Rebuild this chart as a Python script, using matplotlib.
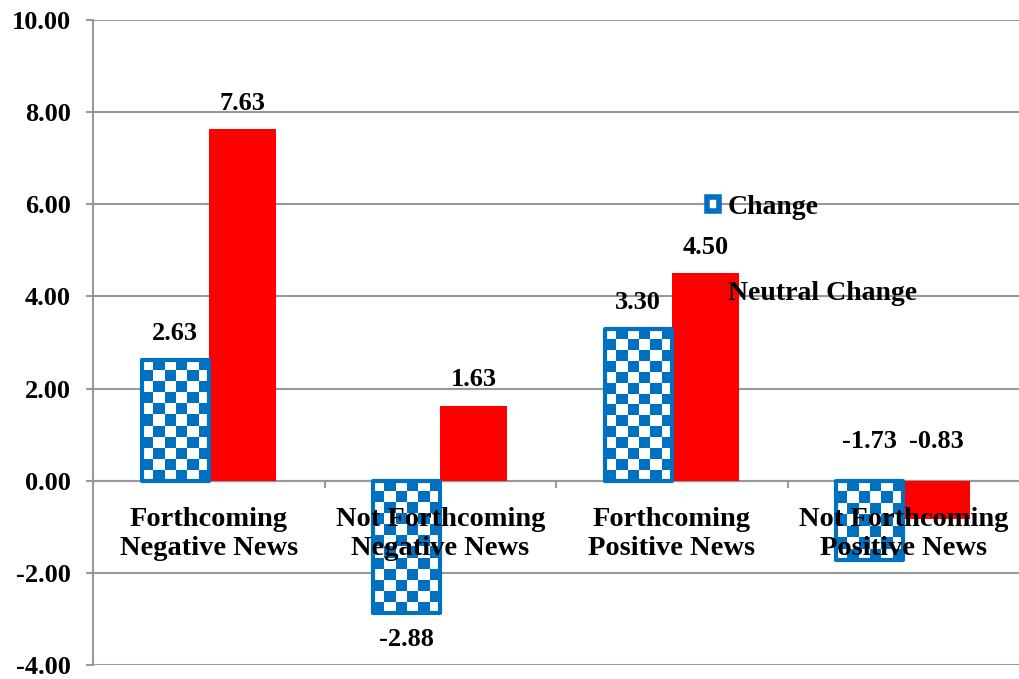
import numpy as np
import matplotlib
matplotlib.use('Agg')
import matplotlib.pyplot as plt
from matplotlib.patches import Rectangle
from matplotlib.colors import ListedColormap

categories = ['Forthcoming\nNegative News', 'Not Forthcoming\nNegative News',
              'Forthcoming\nPositive News', 'Not Forthcoming\nPositive News']
change = [2.63, -2.88, 3.30, -1.73]
neutral_change = [7.63, 1.63, 4.50, -0.83]
y_ticks = [-4, -2, 0, 2, 4, 6, 8, 10]

BLUE = '#0070C0'
RED = '#FF0000'
GRID = '#999999'
PT = 0.72  # points per pixel at 100 dpi
plt.rcParams['font.family'] = ['Liberation Serif', 'DejaVu Serif']
plt.rcParams['font.weight'] = 'bold'

fig = plt.figure(figsize=(10.19, 6.79), dpi=100)
ax = fig.add_axes([93 / 1019, 14 / 679, 926 / 1019, 645 / 679])
ax.set_xlim(-0.5, 3.5)
ax.set_ylim(-4, 10)

width = 0.29
x = np.arange(len(categories))

# pixel size of one data unit, used for the checker cells
px_x = 926 / 4
px_y = 645 / 14
cell = 11

checker_cmap = ListedColormap(['white', BLUE])
for xi, v in zip(x, change):
    x0 = xi - width
    bar = Rectangle((x0, 0), width, v, facecolor='none', edgecolor=BLUE,
                    linewidth=3, joinstyle='round', zorder=4)
    ax.add_patch(bar)
    ncols = max(1, int(round(width * px_x / cell)))
    nrows = max(1, int(round(abs(v) * px_y / cell)))
    grid = (np.indices((nrows, ncols)).sum(axis=0) % 2).astype(float)
    img = ax.imshow(grid, cmap=checker_cmap, extent=(x0, x0 + width, min(0, v), max(0, v)),
                    interpolation='nearest', aspect='auto', zorder=3, vmin=0, vmax=1)
    img.set_clip_path(bar)

ax.bar(x + width / 2, neutral_change, width, color=RED, zorder=3)

# value labels; the last group keeps both labels above the zero line
for i, (xi, v) in enumerate(zip(x, change)):
    if i == 3:
        y, off = 0, 39
    else:
        y, off = v, (26 if v > 0 else -26)
    ax.annotate(f'{v:.2f}', (xi - width / 2, y), xytext=(0, off * PT), textcoords='offset points',
                ha='center', va='center', fontsize=19, fontweight='bold', zorder=6)
for i, (xi, v) in enumerate(zip(x, neutral_change)):
    y, off = (0, 39) if i == 3 else (v, 26)
    ax.annotate(f'{v:.2f}', (xi + width / 2, y), xytext=(0, off * PT), textcoords='offset points',
                ha='center', va='center', fontsize=19, fontweight='bold', zorder=6)

# category names under the zero line
for xi, name in zip(x, categories):
    ax.annotate(name, (xi, 0), xytext=(0, -53 * PT), textcoords='offset points',
                ha='center', va='center', fontsize=20.5, fontweight='bold',
                linespacing=1.2, zorder=7)

ax.set_yticks(y_ticks)
ax.set_yticklabels([f'{t:.2f}' for t in y_ticks], fontsize=19, fontweight='bold')
ax.yaxis.grid(True, color=GRID, linewidth=1.5)
ax.set_axisbelow(True)
ax.tick_params(axis='y', length=5, width=1.5, color=GRID, pad=11)

ax.spines['top'].set_visible(False)
ax.spines['right'].set_visible(False)
ax.spines['left'].set_color(GRID)
ax.spines['left'].set_linewidth(1.5)
ax.spines['bottom'].set_position(('data', 0))
ax.spines['bottom'].set_color(GRID)
ax.spines['bottom'].set_linewidth(1.5)
ax.set_xticks([0.5, 1.5, 2.5])
ax.set_xticklabels([])
ax.tick_params(axis='x', length=5, width=1.5, color=GRID, direction='out')

handles = [Rectangle((0, 0), 1, 1, facecolor='white', edgecolor=BLUE, linewidth=4, joinstyle='round'),
           Rectangle((0, 0), 1, 1, facecolor=RED, edgecolor='none')]
leg = ax.legend(handles, ['Change', 'Neutral Change'], loc='upper left',
                bbox_to_anchor=(693 / 1019, 1 - 181 / 679), bbox_transform=fig.transFigure,
                frameon=False, fontsize=20, handlelength=0.45, handleheight=0.45,
                handletextpad=0.3, labelspacing=2.2, borderpad=0)
leg.set_zorder(8)

fig.savefig('out.png', dpi=100)
